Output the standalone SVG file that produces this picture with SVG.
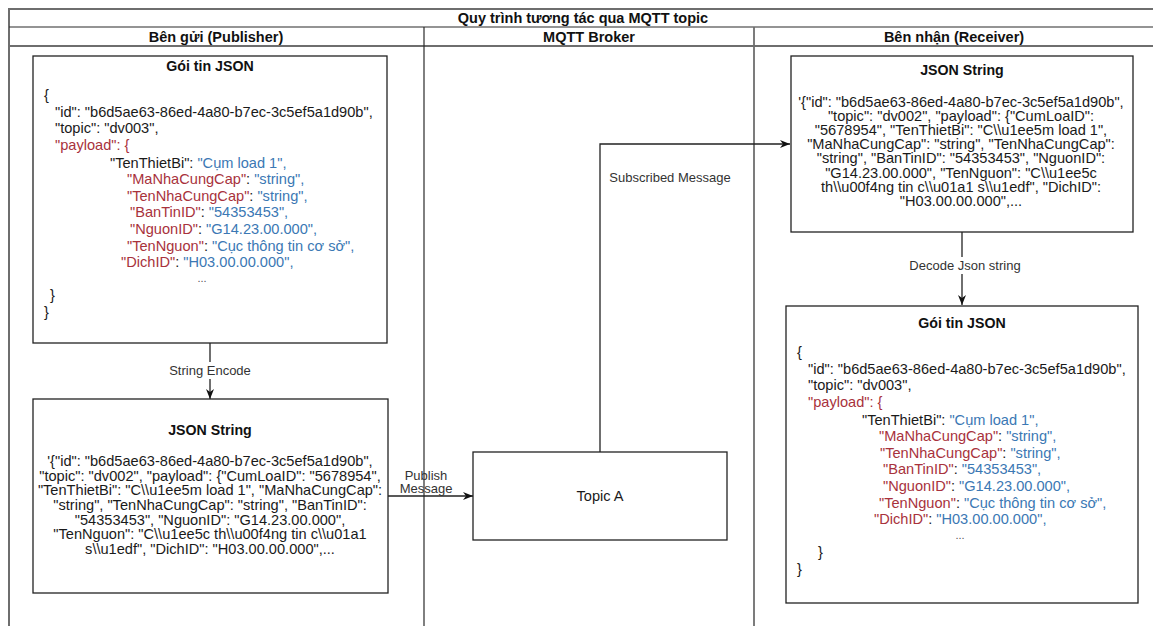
<svg xmlns="http://www.w3.org/2000/svg" width="1153" height="626" viewBox="0 0 1153 626">
  <style>
    .frame { fill: none; stroke: #6e6e6e; stroke-width: 2; }
    .rule { fill: none; stroke: #2a2a2a; stroke-width: 1.2; }
    .rule-g { fill: none; stroke: #6e6e6e; stroke-width: 1.8; }
    .box { fill: #ffffff; stroke: #222222; stroke-width: 1.3; }
    .conn { fill: none; stroke: #222222; stroke-width: 1.3; }
    .hdr { font-family: "Liberation Sans", Arial, sans-serif; font-weight: bold; font-size: 14.5px; fill: #111111; text-anchor: middle; }
    .ttl { font-family: "Liberation Sans", Arial, sans-serif; font-weight: bold; font-size: 14.2px; fill: #111111; text-anchor: middle; }
    .t { font-family: "Liberation Sans", Arial, sans-serif; font-size: 14.6px; fill: #1a1a1a; }
    .s { font-family: "Liberation Sans", Arial, sans-serif; font-size: 14.6px; fill: #1a1a1a; text-anchor: middle; }
    .k { fill: #a8323c; }
    .v { fill: #3b78b4; }
    .dots { font-family: "Liberation Sans", Arial, sans-serif; font-size: 11px; fill: #555555; text-anchor: middle; }
    .lbl { font-family: "Liberation Sans", Arial, sans-serif; font-size: 13px; fill: #333333; text-anchor: middle; }
  </style>
  <defs>
    <marker id="arrow" viewBox="0 0 10 8" refX="10" refY="4" markerWidth="10" markerHeight="8" markerUnits="userSpaceOnUse" orient="auto">
      <path d="M0,0 L10,4 L0,8 L3,4 Z" fill="#111111"/>
    </marker>
  </defs>

  <rect width="1153" height="626" fill="#ffffff"/>

  <!-- swimlane frame: title row, column headers, three lanes -->
  <g id="lanes">
    <rect class="frame" x="9" y="9" width="1146" height="640"/>
    <line class="rule" x1="9" y1="27" x2="1153" y2="27"/>
    <line class="rule-g" x1="9" y1="46" x2="1153" y2="46"/>
    <line class="rule" x1="424" y1="27" x2="424" y2="626"/>
    <line class="rule-g" x1="754" y1="27" x2="754" y2="626"/>
    <text class="hdr" x="583" y="23">Quy trình tương tác qua MQTT topic</text>
    <text class="hdr" x="216" y="42">Bên gửi (Publisher)</text>
    <text class="hdr" x="589" y="42">MQTT Broker</text>
    <text class="hdr" x="954" y="42">Bên nhận (Receiver)</text>
  </g>

  <!-- connectors -->
  <g id="connectors">
    <path class="conn" d="M210,343 V399" marker-end="url(#arrow)"/>
    <rect x="166" y="362" width="88" height="17" fill="#ffffff"/>
    <text class="lbl" x="210" y="375">String Encode</text>

    <path class="conn" d="M388,496 H473" marker-end="url(#arrow)"/>
    <text class="lbl" x="426" y="480">Publish</text>
    <text class="lbl" x="426" y="493">Message</text>

    <path class="conn" d="M600,452 V144 H790" marker-end="url(#arrow)"/>
    <text class="lbl" x="670" y="182">Subscribed Message</text>

    <path class="conn" d="M962,232 V305" marker-end="url(#arrow)"/>
    <rect x="906" y="257" width="118" height="17" fill="#ffffff"/>
    <text class="lbl" x="965" y="270">Decode Json string</text>
  </g>

  <!-- publisher: JSON packet -->
  <g id="pub-packet">
    <rect class="box" x="33" y="56" width="354" height="287"/>
    <text class="ttl" x="210" y="71">Gói tin JSON</text>
    <text class="t" x="44" y="100">{</text>
    <text class="t" x="55" y="117">"id": "b6d5ae63-86ed-4a80-b7ec-3c5ef5a1d90b",</text>
    <text class="t" x="55" y="133">"topic": "dv003",</text>
    <text class="t k" x="55" y="150">"payload": {</text>
    <text class="t" x="110" y="168">"TenThietBi": <tspan class="v">"Cụm load 1",</tspan></text>
    <text class="t" x="127" y="184"><tspan class="k">"MaNhaCungCap"</tspan>: <tspan class="v">"string",</tspan></text>
    <text class="t" x="127" y="201"><tspan class="k">"TenNhaCungCap"</tspan>: <tspan class="v">"string",</tspan></text>
    <text class="t" x="130" y="217"><tspan class="k">"BanTinID"</tspan>: <tspan class="v">"54353453",</tspan></text>
    <text class="t" x="130" y="234"><tspan class="k">"NguonID"</tspan>: <tspan class="v">"G14.23.00.000",</tspan></text>
    <text class="t" x="127" y="251"><tspan class="k">"TenNguon"</tspan>: <tspan class="v">"Cục thông tin cơ sở",</tspan></text>
    <text class="t" x="121" y="267"><tspan class="k">"DichID"</tspan>: <tspan class="v">"H03.00.00.000",</tspan></text>
    <text class="dots" x="202" y="282">...</text>
    <text class="t" x="50" y="300">}</text>
    <text class="t" x="44" y="317">}</text>
  </g>

  <!-- publisher: encoded JSON string -->
  <g id="pub-string">
    <rect class="box" x="33" y="399" width="355" height="194"/>
    <text class="ttl" x="210" y="435">JSON String</text>
    <text class="s" x="210" y="466">'{"id": "b6d5ae63-86ed-4a80-b7ec-3c5ef5a1d90b",</text>
    <text class="s" x="210" y="481">"topic": "dv002", "payload": {"CumLoaID": "5678954",</text>
    <text class="s" x="210" y="495">"TenThietBi": "C\\u1ee5m load 1", "MaNhaCungCap":</text>
    <text class="s" x="210" y="510">"string", "TenNhaCungCap": "string", "BanTinID":</text>
    <text class="s" x="210" y="525">"54353453", "NguonID": "G14.23.00.000",</text>
    <text class="s" x="210" y="539">"TenNguon": "C\\u1ee5c th\\u00f4ng tin c\\u01a1</text>
    <text class="s" x="210" y="554">s\\u1edf", "DichID": "H03.00.00.000",...</text>
  </g>

  <!-- broker: topic -->
  <g id="topic-a">
    <rect class="box" x="473" y="452" width="254" height="88"/>
    <text class="s" x="600" y="501">Topic A</text>
  </g>

  <!-- receiver: received JSON string -->
  <g id="recv-string">
    <rect class="box" x="791" y="56" width="342" height="176"/>
    <text class="ttl" x="962" y="75">JSON String</text>
    <text class="s" x="961" y="107">'{"id": "b6d5ae63-86ed-4a80-b7ec-3c5ef5a1d90b",</text>
    <text class="s" x="961" y="121">"topic": "dv002", "payload": {"CumLoaID":</text>
    <text class="s" x="961" y="135">"5678954", "TenThietBi": "C\\u1ee5m load 1",</text>
    <text class="s" x="961" y="149">"MaNhaCungCap": "string", "TenNhaCungCap":</text>
    <text class="s" x="961" y="163">"string", "BanTinID": "54353453", "NguonID":</text>
    <text class="s" x="961" y="178">"G14.23.00.000", "TenNguon": "C\\u1ee5c</text>
    <text class="s" x="961" y="192">th\\u00f4ng tin c\\u01a1 s\\u1edf", "DichID":</text>
    <text class="s" x="961" y="206">"H03.00.00.000",...</text>
  </g>

  <!-- receiver: decoded JSON packet -->
  <g id="recv-packet">
    <rect class="box" x="786" y="306" width="352" height="297"/>
    <text class="ttl" x="962" y="328">Gói tin JSON</text>
    <text class="t" x="797" y="357">{</text>
    <text class="t" x="808" y="374">"id": "b6d5ae63-86ed-4a80-b7ec-3c5ef5a1d90b",</text>
    <text class="t" x="808" y="390">"topic": "dv003",</text>
    <text class="t k" x="808" y="407">"payload": {</text>
    <text class="t" x="862" y="425">"TenThietBi": <tspan class="v">"Cụm load 1",</tspan></text>
    <text class="t" x="879" y="441"><tspan class="k">"MaNhaCungCap"</tspan>: <tspan class="v">"string",</tspan></text>
    <text class="t" x="880" y="458"><tspan class="k">"TenNhaCungCap"</tspan>: <tspan class="v">"string",</tspan></text>
    <text class="t" x="883" y="474"><tspan class="k">"BanTinID"</tspan>: <tspan class="v">"54353453",</tspan></text>
    <text class="t" x="883" y="491"><tspan class="k">"NguonID"</tspan>: <tspan class="v">"G14.23.00.000",</tspan></text>
    <text class="t" x="879" y="508"><tspan class="k">"TenNguon"</tspan>: <tspan class="v">"Cục thông tin cơ sở",</tspan></text>
    <text class="t" x="874" y="524"><tspan class="k">"DichID"</tspan>: <tspan class="v">"H03.00.00.000",</tspan></text>
    <text class="dots" x="960" y="539">...</text>
    <text class="t" x="818" y="557">}</text>
    <text class="t" x="797" y="574">}</text>
  </g>
</svg>
